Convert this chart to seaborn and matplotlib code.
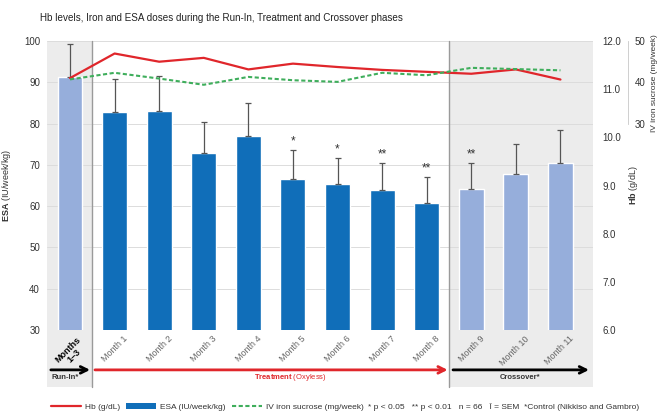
import matplotlib
matplotlib.use("Agg")
import matplotlib.pyplot as plt
import matplotlib.transforms as mtransforms
from matplotlib.patches import Rectangle, Patch
from matplotlib.lines import Line2D
import seaborn as sb
import pandas as pd
import numpy as np

# data
months = ['Months\n1\u20133', 'Month 1', 'Month 2', 'Month 3', 'Month 4', 'Month 5',
          'Month 6', 'Month 7', 'Month 8', 'Month 9', 'Month 10', 'Month 11']
phase = ['Run-In'] + ['Treatment'] * 8 + ['Crossover'] * 3
esa = [91.2, 82.9, 83.0, 72.9, 77.0, 66.6, 65.4, 64.0, 60.7, 64.1, 67.9, 70.5]
esa_sem = [8.0, 8.0, 8.5, 7.4, 8.0, 7.1, 6.2, 6.4, 6.3, 6.3, 7.1, 8.0]
hb = [11.23, 11.74, 11.57, 11.65, 11.41, 11.53, 11.46, 11.40, 11.36, 11.32, 11.41, 11.20]
iron = [40.7, 42.3, 40.9, 39.4, 41.3, 40.5, 40.1, 42.3, 41.7, 43.5, 43.2, 42.9]
signif = ['', '', '', '', '', '*', '*', '**', '**', '**', '', '']

dark_blue = '#106eb9'
light_blue = '#96aedb'
shade = '#ececec'
red = '#e0262b'
green = '#3fae5c'
txt = '#333333'

sb.set_theme(style='white')
plt.rcParams['font.family'] = ['Liberation Sans', 'DejaVu Sans']
plt.rcParams['mathtext.fontset'] = 'custom'
plt.rcParams['mathtext.rm'] = 'Liberation Sans'
plt.rcParams['mathtext.bf'] = 'Liberation Sans:bold'

W, H = 663, 412
fig = plt.figure(figsize=(W / 100, H / 100), dpi=100)
ax = fig.add_axes([47 / W, 1 - 330 / H, 546 / W, 289 / H])

df = pd.DataFrame({'month': months, 'esa': esa, 'phase': phase})
sb.barplot(data=df, x='month', y='esa', hue='phase', dodge=False,
           palette={'Run-In': light_blue, 'Treatment': dark_blue, 'Crossover': light_blue},
           width=0.56, saturation=1, legend=False, ax=ax, zorder=3)
x = np.arange(len(months))
ax.errorbar(x, esa, yerr=[np.zeros(len(esa)), esa_sem], fmt='none', ecolor='#555555',
            elinewidth=0.9, capsize=2.5, capthick=0.9, zorder=4)
for i in range(len(months)):
    if signif[i]:
        ax.text(i, esa[i] + esa_sem[i] + 0.6, signif[i], ha='center', va='bottom',
                fontsize=8.5, color=txt, zorder=5)

ax.set_xlim(-0.516, 11.73)
ax.set_ylim(30, 100)
ax.set_yticks(range(30, 101, 10))
ax.yaxis.grid(True, color='#dcdcdc', lw=0.7)
ax.set_axisbelow(True)
ax.tick_params(axis='y', length=0, pad=5, labelsize=7, labelcolor=txt)
ax.set_xticks(x)
ax.set_xticklabels([])
ax.tick_params(axis='x', length=0)
ax.set_xlabel('')
ax.set_ylabel(r'$\mathbf{ESA}$ (IU/week/kg)', fontsize=6.5, color=txt)
ax.yaxis.set_label_coords(-0.062, 0.5)
for s in ax.spines.values():
    s.set_visible(False)

blend = mtransforms.blended_transform_factory(ax.transData, ax.transAxes)
# phase shading, extended below the axis
for x0, x1 in [(-0.516, 0.5), (8.5, 11.73)]:
    ax.add_patch(Rectangle((x0, -0.197), x1 - x0, 1.197, transform=blend,
                           facecolor=shade, edgecolor='none', zorder=0, clip_on=False))
for xv in [0.5, 8.5]:
    ax.plot([xv, xv], [-0.197, 1], transform=blend, color='#9a9a9a', lw=1,
            clip_on=False, zorder=1)

# month labels
for i, m in enumerate(months):
    if i == 0:
        ax.text(0.02, -0.078, m, transform=blend, rotation=45, ha='center', va='center',
                rotation_mode='anchor', fontsize=6.5, fontweight='bold', color='black',
                multialignment='center', linespacing=1.0)
    else:
        ax.text(i + 0.19, -0.014, m, transform=blend, rotation=45, ha='right', va='top',
                rotation_mode='anchor', fontsize=6.5, color='#666666')

# phase arrows
arr_y = -0.138
for x0, x1, c in [(-0.43, 0.45, 'black'), (0.56, 8.47, red), (8.59, 11.64, 'black')]:
    ax.annotate('', xy=(x1, arr_y), xytext=(x0, arr_y), xycoords=blend, textcoords=blend,
                arrowprops=dict(arrowstyle='->', lw=2.0, color=c, mutation_scale=12,
                                shrinkA=0, shrinkB=0),
                annotation_clip=False)
ax.text(-0.11, -0.166, 'Run-In*', transform=blend, ha='center', va='center',
        fontsize=5.5, fontweight='bold', color=txt)
ax.text(4.95, -0.166, r'$\mathbf{Treatment}$ (Oxyless)', transform=blend, ha='center',
        va='center', fontsize=5.5, color=red)
ax.text(10.09, -0.166, 'Crossover*', transform=blend, ha='center', va='center',
        fontsize=5.5, fontweight='bold', color=txt)

# Hb axis
ax_hb = ax.twinx()
sb.lineplot(x=x, y=hb, ax=ax_hb, color=red, lw=1.6)
ax_hb.set_xlim(-0.516, 11.73)
ax_hb.set_ylim(6, 12)
ax_hb.set_yticks(np.arange(6, 12.01, 1.0))
ax_hb.set_yticklabels(['%.1f' % v for v in np.arange(6, 12.01, 1.0)])
ax_hb.tick_params(axis='y', length=0, pad=7, labelsize=7, labelcolor=txt)
ax_hb.set_ylabel(r'$\mathbf{Hb}$ (g/dL)', fontsize=6.5, color=txt, rotation=90)
ax_hb.yaxis.set_label_coords(1.062, 0.5)
for s in ax_hb.spines.values():
    s.set_visible(False)

# iron axis
ax_fe = ax.twinx()
sb.lineplot(x=x, y=iron, ax=ax_fe, color=green, lw=1.5, linestyle=(0, (2, 1.2)))
ax_fe.set_xlim(-0.516, 11.73)
ax_fe.set_ylim(-20, 50)
ax_fe.set_yticks([30, 40, 50])
for k, s in ax_fe.spines.items():
    s.set_visible(k == 'right')
ax_fe.spines['right'].set_position(('axes', 1.064))
ax_fe.spines['right'].set_bounds(30, 50)
ax_fe.spines['right'].set_color('#c8c8c8')
ax_fe.spines['right'].set_linewidth(0.6)
ax_fe.tick_params(axis='y', length=0, pad=5, labelsize=7, labelcolor=txt)
ax_fe.set_ylabel('IV iron sucrose (mg/week)', fontsize=6, color=txt, rotation=90)
ax_fe.yaxis.set_label_coords(1.106, 0.855)

fig.text(40 / W, 1 - 18 / H, 'Hb levels, Iron and ESA doses during the Run-In, Treatment and Crossover phases',
         ha='left', va='center', fontsize=7.1, color='#222222')

handles = [Line2D([], [], color=red, lw=1.6),
           Patch(facecolor=dark_blue, edgecolor='none'),
           Line2D([], [], color=green, lw=1.5, linestyle=(0, (2, 1.2)))]
labels = ['Hb (g/dL)', 'ESA (IU/week/kg)', 'IV iron sucrose (mg/week)']
leg = fig.legend(handles, labels, loc='center left', bbox_to_anchor=(51 / W, 1 - 407 / H),
                 ncol=3, frameon=False, fontsize=6, handlelength=3.6, handletextpad=0.5,
                 columnspacing=0.7, borderaxespad=0, borderpad=0)
for t in leg.get_texts():
    t.set_color(txt)
fig.canvas.draw()
bb = leg.get_window_extent()
fig.text(bb.x1 / W + 0.006, 1 - 407 / H,
         '* p < 0.05   ** p < 0.01   n = 66   \u012a = SEM  *Control (Nikkiso and Gambro)',
         ha='left', va='center', fontsize=6, color=txt)

fig.savefig('out.png', dpi=100)
